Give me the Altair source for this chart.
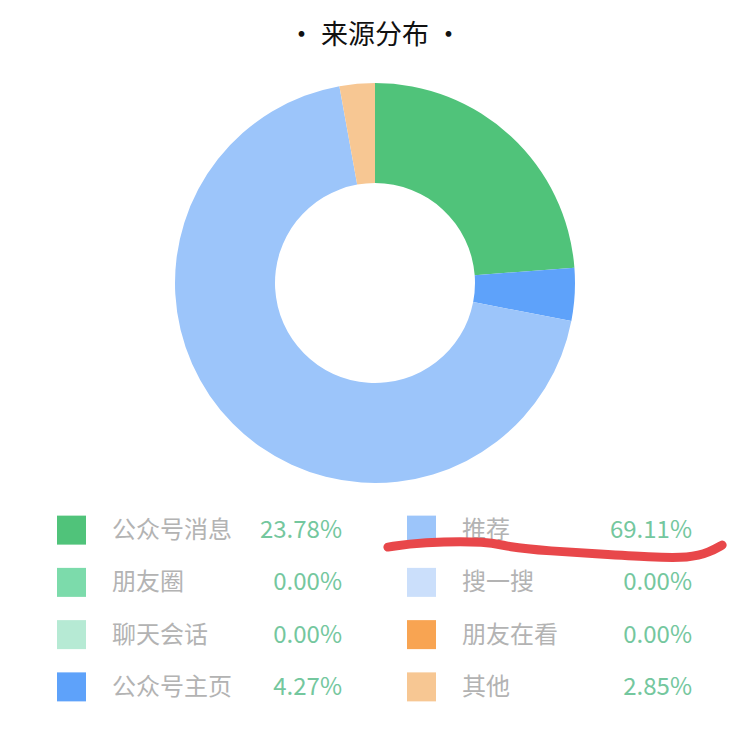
import altair as alt
import pandas as pd

# ---- data ----
sources = ["公众号消息", "朋友圈", "聊天会话", "公众号主页", "推荐", "搜一搜", "朋友在看", "其他"]
shares = [23.78, 0.00, 0.00, 4.27, 69.11, 0.00, 0.00, 2.85]
colors = ["#50c37a", "#7cdbab", "#b6ead4", "#5ea2fa", "#9cc5fa", "#cbdffb", "#f8a452", "#f7c793"]
legend_col = [0, 0, 0, 0, 1, 1, 1, 1]
legend_row = [0, 1, 2, 3, 0, 1, 2, 3]

# hand-drawn red underline (in legend column / row units)
mark_x = [0.904, 0.996, 1.196, 1.244, 1.367, 1.510, 1.653, 1.767, 1.824, 1.859]
mark_y = [0.325, 0.229, 0.210, 0.325, 0.400, 0.459, 0.516, 0.535, 0.420, 0.287]

df = pd.DataFrame({
    "source": sources,
    "share": shares,
    "order": list(range(len(sources))),
    "col": legend_col,
    "row": legend_row,
    "pct": [f"{v:.2f}%" for v in shares],
})
ann = pd.DataFrame({"x": mark_x, "y": mark_y, "i": list(range(len(mark_x)))})

FONT = "Noto Sans CJK SC"
W = 734
color_scale = alt.Scale(domain=sources, range=colors)

donut = alt.Chart(df).mark_arc(innerRadius=100, outerRadius=200).encode(
    theta=alt.Theta("share:Q", stack=True),
    order=alt.Order("order:Q"),
    color=alt.Color("source:N", scale=color_scale, legend=None),
).properties(width=W, height=442)

xs = alt.Scale(domain=[-63.5 / 350, (W - 63.5) / 350])
ys = alt.Scale(domain=[-0.5, 3.5], reverse=True)
X = alt.X("col:Q", scale=xs, axis=None)
Y = alt.Y("row:Q", scale=ys, axis=None)

base = alt.Chart(df)
squares = base.mark_square(size=841, opacity=1).encode(
    x=X, y=Y,
    color=alt.Color("source:N", scale=color_scale, legend=None),
)
labels = base.mark_text(align="left", baseline="middle", dx=40.5, dy=1, font=FONT,
                        fontSize=24, color="#b3b3b3").encode(x=X, y=Y, text="source:N")
pcts = base.mark_text(align="right", baseline="middle", dx=270.5, dy=1, font=FONT,
                      fontSize=24, color="#74c79e").encode(x=X, y=Y, text="pct:N")
underline = alt.Chart(ann).mark_line(color="#e8474a", strokeWidth=9, strokeCap="round",
                                     interpolate="basis").encode(
    x=alt.X("x:Q", scale=xs, axis=None),
    y=alt.Y("y:Q", scale=ys, axis=None),
    order="i:Q",
)

legend = alt.layer(squares, labels, pcts, underline).properties(width=W, height=209)

chart = alt.vconcat(donut, legend, spacing=0).properties(
    title=alt.TitleParams("· 来源分布 ·", fontSize=27, font=FONT, fontWeight="normal",
                          color="#111111", anchor="middle", offset=12),
    padding={"top": 14, "left": 0, "right": 0, "bottom": 0},
    background="white",
).configure_view(stroke=None).configure_concat(spacing=0)

chart.save("out.html", embed_options={"renderer": "svg", "actions": False})
